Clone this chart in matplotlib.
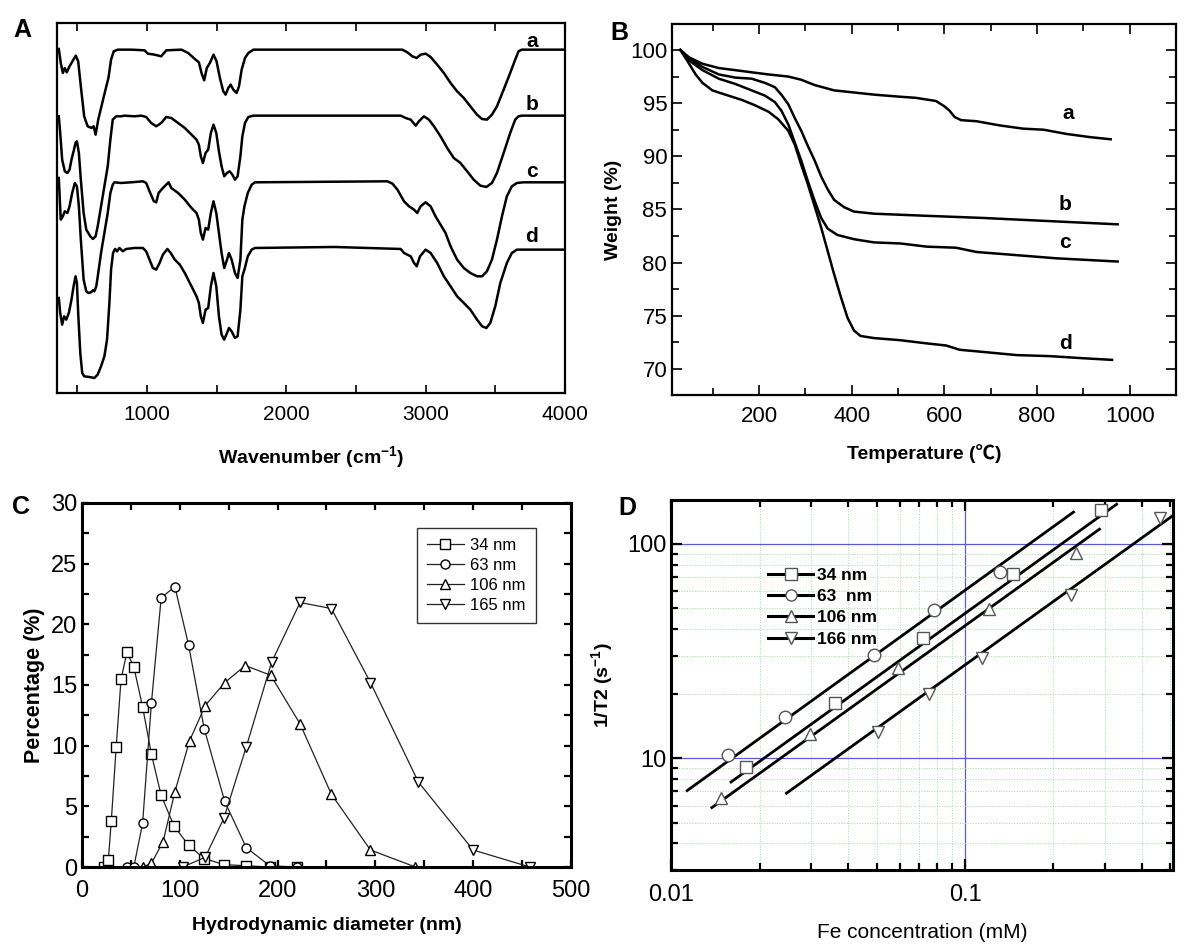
import matplotlib
matplotlib.use('Agg')
import matplotlib.pyplot as plt
from matplotlib.ticker import MultipleLocator, LogLocator, FuncFormatter, NullFormatter
from matplotlib.lines import Line2D

plt.rcParams['font.family'] = ['Liberation Sans', 'Noto Sans CJK SC', 'DejaVu Sans']
plt.rcParams['mathtext.fontset'] = 'custom'
plt.rcParams['mathtext.rm'] = 'Liberation Sans'
plt.rcParams['mathtext.bf'] = 'Liberation Sans:bold'

# ---- Panel A: FTIR spectra (offset, arbitrary units) ----
wn_a = [368, 382, 397, 411, 425, 445, 466, 490, 507, 526, 550, 575, 603, 618, 632, 651, 671, 700, 724, 743,
        762, 791, 887, 983, 1007, 1055, 1103, 1139, 1248, 1296, 1344, 1373, 1392, 1411, 1430, 1452, 1478, 1500, 1524, 1548,
        1565, 1584, 1601, 1620, 1644, 1661, 1680, 1704, 1728, 1764, 2833, 2869, 2905, 2936, 2964, 3000, 3036, 3083, 3131, 3179,
        3226, 3274, 3321, 3369, 3405, 3440, 3476, 3512, 3560, 3607, 3643, 3667, 3690, 4000]
ir_a = [1032, 990, 960, 975, 962, 980, 995, 1012, 995, 920, 830, 800, 795, 800, 775, 820, 855, 905, 945, 1000,
        1025, 1030, 1030, 1028, 1018, 1015, 1010, 1028, 1030, 1020, 1002, 992, 960, 938, 975, 990, 1015, 995, 945, 905,
        895, 915, 925, 910, 900, 920, 970, 1005, 1020, 1030, 1030, 1022, 1010, 1005, 1015, 1018, 1008, 985, 960, 930,
        905, 885, 860, 835, 822, 820, 835, 860, 910, 960, 1000, 1025, 1030, 1030]

wn_b = [368, 378, 392, 411, 430, 445, 459, 474, 488, 498, 512, 526, 546, 565, 594, 613, 632, 647, 671, 695,
        719, 738, 755, 779, 815, 839, 911, 959, 995, 1031, 1067, 1103, 1139, 1175, 1224, 1272, 1320, 1356, 1373, 1387,
        1402, 1421, 1440, 1459, 1478, 1498, 1517, 1536, 1555, 1575, 1594, 1613, 1632, 1651, 1671, 1685, 1704, 1728, 1764, 2821,
        2857, 2893, 2929, 2952, 2988, 3024, 3060, 3107, 3155, 3202, 3250, 3298, 3345, 3393, 3436, 3476, 3512, 3560, 3607, 3643,
        3667, 3690, 4000]
ir_b = [830, 780, 700, 665, 660, 670, 700, 725, 750, 755, 720, 640, 540, 490, 470, 462, 470, 500, 560, 620,
        680, 760, 820, 830, 830, 832, 830, 832, 828, 810, 800, 810, 828, 825, 810, 795, 775, 760, 745, 710,
        690, 720, 730, 780, 805, 780, 725, 680, 650, 660, 665, 655, 640, 650, 710, 770, 810, 828, 832, 832,
        825, 820, 802, 815, 830, 820, 800, 770, 735, 705, 690, 665, 640, 622, 618, 630, 660, 720, 780, 820,
        830, 832, 832]

wn_c = [368, 382, 397, 411, 430, 445, 464, 483, 498, 512, 526, 546, 565, 580, 599, 613, 623, 637, 651, 671,
        695, 719, 738, 755, 767, 815, 887, 971, 995, 1019, 1050, 1067, 1084, 1115, 1139, 1156, 1175, 1224, 1272, 1320,
        1356, 1373, 1387, 1402, 1421, 1440, 1459, 1478, 1498, 1517, 1536, 1555, 1575, 1589, 1608, 1632, 1651, 1671, 1685, 1700,
        1724, 1752, 1776, 2726, 2762, 2798, 2845, 2881, 2917, 2940, 2964, 3000, 3036, 3071, 3107, 3143, 3179, 3226, 3274, 3321,
        3369, 3405, 3440, 3476, 3512, 3548, 3583, 3619, 3655, 3702, 4000]
ir_c = [645, 520, 530, 545, 540, 560, 600, 630, 620, 560, 460, 340, 305, 300, 302, 308, 305, 320, 360, 420,
        480, 540, 600, 625, 632, 630, 632, 635, 630, 605, 575, 572, 600, 615, 625, 632, 615, 600, 580, 555,
        540, 520, 480, 460, 495, 490, 540, 575, 540, 480, 420, 375, 400, 420, 400, 360, 345, 400, 520, 560,
        600, 625, 632, 635, 628, 610, 575, 560, 550, 540, 560, 572, 560, 530, 505, 480, 440, 400, 375, 360,
        350, 350, 365, 400, 460, 530, 590, 620, 630, 632, 632]

wn_d = [368, 378, 392, 406, 421, 440, 459, 474, 488, 498, 507, 522, 536, 550, 587, 623, 647, 671, 695, 714,
        731, 743, 757, 772, 786, 803, 827, 851, 911, 971, 995, 1019, 1043, 1067, 1091, 1115, 1147, 1171, 1200, 1236,
        1272, 1320, 1356, 1373, 1387, 1402, 1421, 1440, 1459, 1478, 1498, 1517, 1536, 1555, 1575, 1589, 1608, 1632, 1651, 1671,
        1685, 1700, 1724, 1752, 1776, 2345, 2821, 2845, 2869, 2893, 2917, 2936, 2960, 3000, 3036, 3083, 3131, 3179, 3226, 3274,
        3321, 3369, 3405, 3436, 3464, 3500, 3536, 3583, 3619, 3655, 4000]
ir_d = [285, 240, 205, 230, 220, 240, 280, 320, 350, 330, 240, 120, 60, 50, 48, 45, 55, 80, 110, 160,
        270, 370, 420, 432, 425, 435, 425, 432, 435, 435, 425, 400, 375, 370, 390, 415, 432, 420, 400, 385,
        360, 320, 290, 270, 230, 210, 250, 255, 320, 360, 320, 230, 175, 160, 180, 195, 185, 165, 170, 250,
        350, 370, 410, 430, 435, 438, 432, 420, 415, 410, 390, 380, 410, 430, 420, 390, 350, 320, 290, 270,
        250, 220, 200, 195, 210, 260, 330, 390, 420, 430, 430]

ir_labels = ['a', 'b', 'c', 'd']
ir_label_y = [1055, 865, 665, 470]

# ---- Panel B: TGA ----
temp_a = [30, 49, 78, 113, 149, 184, 220, 263, 291, 320, 362, 405, 448, 505, 538, 582, 600, 611, 622, 636,
          669, 720, 770, 814, 864, 915, 959]
wt_a = [100, 99.3, 98.7, 98.3, 98.1, 97.9, 97.7, 97.5, 97.2, 96.7, 96.2, 96.0, 95.8, 95.6, 95.5, 95.2, 94.7, 94.3, 93.7, 93.4,
        93.3, 92.9, 92.6, 92.5, 92.1, 91.8, 91.6]
temp_b = [30, 49, 78, 113, 149, 184, 213, 234, 248, 263, 277, 291, 305, 320, 334, 348, 362, 384, 405, 448,
          505, 562, 683, 828, 974]
wt_b = [100, 99.2, 98.4, 97.7, 97.4, 97.3, 96.9, 96.5, 95.8, 94.9, 93.6, 92.4, 91.0, 89.6, 88.1, 86.9, 85.9, 85.2, 84.8, 84.6,
        84.5, 84.4, 84.2, 83.9, 83.6]
temp_c = [30, 49, 78, 113, 149, 184, 213, 234, 248, 263, 277, 291, 305, 320, 334, 348, 369, 405, 448, 505,
          562, 625, 669, 756, 843, 974]
wt_c = [100, 99.0, 98.1, 97.3, 96.8, 96.2, 95.7, 95.1, 94.3, 93.0, 91.3, 89.6, 87.7, 85.8, 84.2, 83.2, 82.6, 82.2, 81.9, 81.8,
        81.5, 81.4, 81.0, 80.7, 80.4, 80.1]
temp_d = [30, 49, 63, 78, 99, 127, 163, 191, 220, 241, 263, 277, 291, 305, 320, 334, 348, 362, 377, 391,
          405, 419, 448, 505, 562, 604, 633, 683, 756, 828, 901, 962]
wt_d = [100, 98.7, 97.7, 96.9, 96.2, 95.8, 95.3, 94.8, 94.2, 93.5, 92.4, 91.1, 89.2, 87.4, 85.3, 83.3, 81.1, 78.9, 76.7, 74.8,
        73.6, 73.1, 72.9, 72.7, 72.4, 72.2, 71.8, 71.6, 71.3, 71.2, 71.0, 70.85]
tga_label_x = [868, 861, 861, 861]
tga_label_y = [94.0, 85.5, 81.9, 72.4]

# ---- Panel C: DLS size distribution ----
dls_names = ['34 nm', '63 nm', '106 nm', '165 nm']
dls_d34 = [23, 27, 30, 35, 40, 46, 53, 62, 71, 81, 94, 109, 125, 145, 168, 192, 220]
dls_p34 = [0.0, 0.6, 3.8, 9.9, 15.5, 17.7, 16.5, 13.2, 9.3, 5.9, 3.4, 1.8, 0.7, 0.2, 0.1, 0.0, 0.0]
dls_d63 = [46, 53, 62, 71, 81, 95, 109, 125, 146, 168, 192, 220]
dls_p63 = [0.0, 0.0, 3.6, 13.5, 22.2, 23.1, 18.3, 11.4, 5.4, 1.6, 0.1, 0.0]
dls_d106 = [62, 71, 83, 95, 110, 126, 146, 167, 193, 223, 255, 295, 341]
dls_p106 = [0.0, 0.3, 2.1, 6.2, 10.4, 13.3, 15.2, 16.6, 15.8, 11.8, 6.0, 1.4, 0.0]
dls_d165 = [103, 126, 145, 168, 194, 223, 255, 295, 344, 400, 458]
dls_p165 = [0.0, 0.8, 4.0, 9.9, 16.9, 21.8, 21.3, 15.2, 7.0, 1.4, 0.0]

# ---- Panel D: relaxivity ----
r2_names = ['34 nm', '63  nm', '106 nm', '166 nm']
fe_34 = [0.018, 0.036, 0.072, 0.146, 0.291]
r2_34 = [9.1, 18.1, 36.3, 72.5, 144]
fe_63 = [0.0156, 0.0244, 0.049, 0.0786, 0.1315]
r2_63 = [10.3, 15.6, 30.2, 49.1, 74]
fe_106 = [0.0148, 0.0296, 0.059, 0.1205, 0.239]
r2_106 = [6.5, 12.9, 26.2, 49.6, 90.6]
fe_166 = [0.0505, 0.0756, 0.1145, 0.229, 0.46]
r2_166 = [13.2, 19.9, 29.3, 57.7, 132]
fit_fe = [[0.016, 0.328], [0.01135, 0.234], [0.01377, 0.2867], [0.0247, 0.508]]
fit_r2 = [[7.73, 153], [7.05, 140.6], [5.87, 117], [6.85, 135]]

fig = plt.figure(figsize=(12, 9.46), dpi=100)


def frame(ax, lw):
    for s in ax.spines.values():
        s.set_linewidth(lw)


# Panel A
axA = fig.add_axes([0.0475, 0.5846, 0.4233, 0.3911])
for wn, ir in [(wn_a, ir_a), (wn_b, ir_b), (wn_c, ir_c), (wn_d, ir_d)]:
    axA.plot(wn, ir, color='black', lw=1.8)
for lab, ly in zip(ir_labels, ir_label_y):
    axA.text(3762, ly, lab, fontsize=15, fontweight='bold', ha='center', va='center')
axA.set_xlim(355, 4000)
axA.set_ylim(0, 1110)
axA.set_yticks([])
axA.xaxis.set_major_locator(MultipleLocator(1000))
axA.xaxis.set_minor_locator(MultipleLocator(500))
axA.tick_params(axis='x', which='both', direction='in', top=True, length=6, width=1.2, labelsize=15, pad=9)
axA.set_xlabel(r'Wavenumber (cm$^{\mathbf{-1}}$)', fontsize=14, fontweight='bold', labelpad=14)
frame(axA, 1.6)

# Panel B
axB = fig.add_axes([0.56, 0.5825, 0.42, 0.3922])
for t, w in [(temp_a, wt_a), (temp_b, wt_b), (temp_c, wt_c), (temp_d, wt_d)]:
    axB.plot(t, w, color='black', lw=1.8)
for lab, lx, ly in zip(ir_labels, tga_label_x, tga_label_y):
    axB.text(lx, ly, lab, fontsize=15, fontweight='bold', ha='center', va='center')
axB.set_xlim(12, 1100)
axB.set_ylim(67.55, 102.45)
axB.xaxis.set_major_locator(MultipleLocator(200))
axB.xaxis.set_minor_locator(MultipleLocator(100))
axB.yaxis.set_major_locator(MultipleLocator(5))
axB.yaxis.set_minor_locator(MultipleLocator(2.5))
axB.tick_params(which='both', direction='in', top=True, right=True, width=1.2, labelsize=16)
axB.tick_params(which='major', length=7)
axB.tick_params(which='minor', length=5)
axB.tick_params(axis='x', pad=8)
axB.set_xlabel('Temperature (℃)', fontsize=14, fontweight='bold', labelpad=12)
axB.set_ylabel('Weight (%)', fontsize=14, fontweight='bold', labelpad=6)
frame(axB, 1.6)

# Panel C
narrow = ['Liberation Sans Narrow', 'Liberation Sans', 'DejaVu Sans']
axC = fig.add_axes([0.0683, 0.0835, 0.4075, 0.3848])
for d, p, m, lab in [(dls_d34, dls_p34, 's', dls_names[0]), (dls_d63, dls_p63, 'o', dls_names[1]),
                     (dls_d106, dls_p106, '^', dls_names[2]), (dls_d165, dls_p165, 'v', dls_names[3])]:
    axC.plot(d, p, color='#222222', lw=0.9, marker=m, ms=6.5, mfc='white', mec='black', mew=1.0, label=lab)
axC.set_xlim(0, 500)
axC.set_ylim(0, 30)
axC.xaxis.set_major_locator(MultipleLocator(100))
axC.xaxis.set_minor_locator(MultipleLocator(50))
axC.yaxis.set_major_locator(MultipleLocator(5))
axC.yaxis.set_minor_locator(MultipleLocator(2.5))
axC.tick_params(which='both', direction='in', top=True, right=True, width=1.6, length=5, labelsize=17)
axC.tick_params(axis='x', pad=9)
for lbl in axC.get_xticklabels() + axC.get_yticklabels():
    lbl.set_family(narrow)
axC.set_xlabel('Hydrodynamic diameter (nm)', fontsize=14, fontweight='bold', family=narrow, labelpad=11)
axC.set_ylabel('Percentage (%)', fontsize=15.5, fontweight='bold', family=narrow, labelpad=4)
legC = axC.legend(loc='upper right', bbox_to_anchor=(0.945, 0.955), frameon=True, fancybox=False,
                  edgecolor='black', handlelength=2.2, handletextpad=0.4, borderpad=0.6, labelspacing=0.3,
                  prop={'family': narrow, 'size': 12})
legC.get_frame().set_linewidth(1.0)
frame(axC, 2.2)

# Panel D
axD = fig.add_axes([0.5592, 0.0803, 0.4183, 0.3911])
axD.set_xscale('log')
axD.set_yscale('log')
axD.set_axisbelow(True)
axD.grid(which='major', color='#5a5ad8', lw=0.9)
axD.grid(which='minor', color='#a6dca6', lw=0.7, linestyle=':')
mk = dict(ls='none', ms=9, mfc='white', mec='#555555', mew=1.0, zorder=3)
for fx, fy in zip(fit_fe, fit_r2):
    axD.plot(fx, fy, color='black', lw=2.0, zorder=2)
axD.plot(fe_34, r2_34, marker='s', **mk)
axD.plot(fe_63, r2_63, marker='o', **mk)
axD.plot(fe_106, r2_106, marker='^', **mk)
axD.plot(fe_166, r2_166, marker='v', **mk)
axD.set_xlim(0.01, 0.51)
axD.set_ylim(3.0, 160)
axD.xaxis.set_major_locator(LogLocator(base=10))
axD.xaxis.set_minor_locator(LogLocator(base=10, subs=range(2, 10)))
axD.yaxis.set_major_locator(LogLocator(base=10))
axD.yaxis.set_minor_locator(LogLocator(base=10, subs=range(2, 10)))
fmt = FuncFormatter(lambda v, pos: '{:g}'.format(v))
axD.xaxis.set_major_formatter(fmt)
axD.yaxis.set_major_formatter(fmt)
axD.xaxis.set_minor_formatter(NullFormatter())
axD.yaxis.set_minor_formatter(NullFormatter())
axD.tick_params(which='both', direction='in', top=True, right=True, width=1.6, labelsize=17)
axD.tick_params(which='major', length=8)
axD.tick_params(which='minor', length=5)
axD.tick_params(axis='x', pad=10)
axD.set_xlabel('Fe concentration (mM)', fontsize=15, labelpad=12)
axD.set_ylabel(r'1/T2 (s$^{\mathbf{-1}}$)', fontsize=14, fontweight='bold', labelpad=8)
handles = [Line2D([], [], color='black', lw=2.2, marker=m, ms=8, mfc='white', mec='#555555')
           for m in ['s', 'o', '^', 'v']]
axD.legend(handles, r2_names, loc='upper left', bbox_to_anchor=(0.162, 0.86), frameon=False,
           handlelength=2.6, handletextpad=0.2, labelspacing=0.36, borderpad=0.4,
           prop={'weight': 'bold', 'size': 12.5})
frame(axD, 2.2)

# panel letters
for lab, x, y in [('A', 0.019, 0.968), ('B', 0.516, 0.965), ('C', 0.0175, 0.464), ('D', 0.5225, 0.463)]:
    fig.text(x, y, lab, fontsize=18, fontweight='bold', ha='center', va='center')

fig.savefig('out.png', dpi=100)
